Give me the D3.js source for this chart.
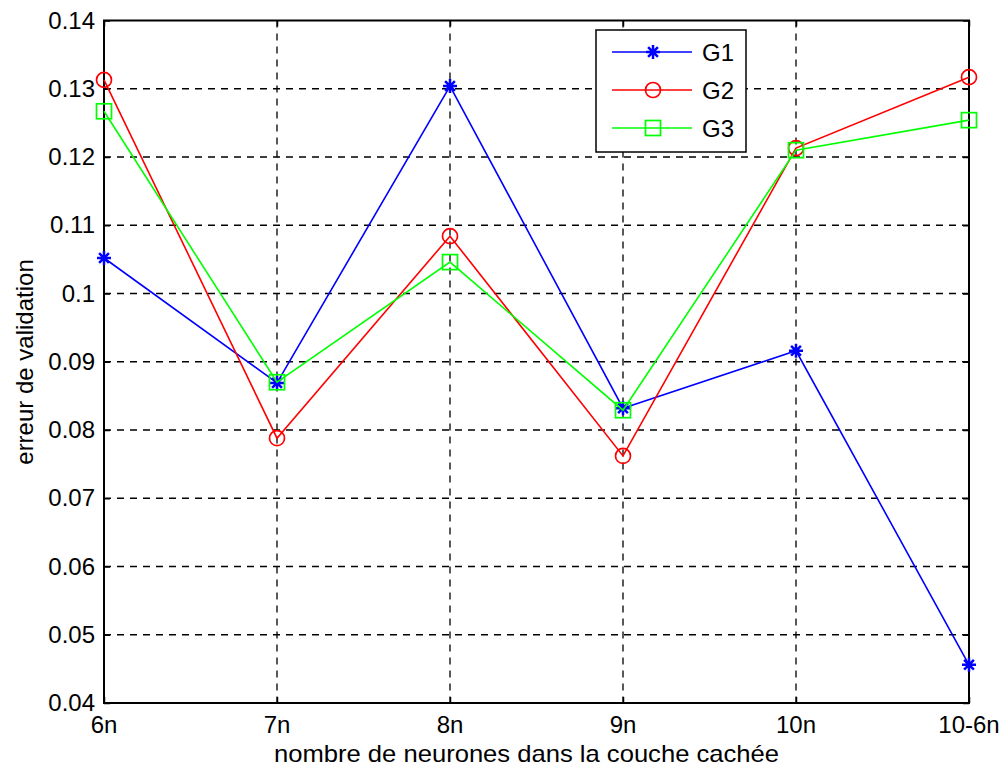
<!DOCTYPE html>
<html>
<head>
<meta charset="utf-8">
<script src="https://cdn.jsdelivr.net/npm/d3@7"></script>
<style>
  body { margin: 0; background: #fff; }
  text { font-family: "Liberation Sans", Arial, sans-serif; }
</style>
</head>
<body>
<div id="chart"></div>
<script>
const categories = ['6n', '7n', '8n', '9n', '10n', '10-6n'];
const g1 = [0.1052, 0.0869, 0.1304, 0.0832, 0.0916, 0.0456];
const g2 = [0.1313, 0.0788, 0.1084, 0.0762, 0.1213, 0.1317];
const g3 = [0.1267, 0.0870, 0.1046, 0.0829, 0.1210, 0.1254];
const yTicks = [0.04, 0.05, 0.06, 0.07, 0.08, 0.09, 0.1, 0.11, 0.12, 0.13, 0.14];
const seriesNames = ['G1', 'G2', 'G3'];
const colors = ['#0000ff', '#ff0000', '#00ff00'];

const width = 1008, height = 773;
const pLeft = 104, pRight = 969, pTop = 20.5, pBottom = 703;
const fs = 24;

const svg = d3.select('#chart').append('svg')
  .attr('width', width)
  .attr('height', height);

const x = d3.scalePoint().domain(categories).range([pLeft, pRight]);
const y = d3.scaleLinear().domain([0.04, 0.14]).range([pBottom, pTop]);

// grid
svg.append('g').selectAll('line')
  .data(categories.slice(1, -1))
  .enter().append('line')
    .attr('x1', d => x(d)).attr('x2', d => x(d))
    .attr('y1', pTop).attr('y2', pBottom)
    .attr('stroke', '#000').attr('stroke-width', 1.3)
    .attr('stroke-dasharray', '7,6');
svg.append('g').selectAll('line')
  .data(yTicks.slice(1, -1))
  .enter().append('line')
    .attr('x1', pLeft).attr('x2', pRight)
    .attr('y1', d => y(d)).attr('y2', d => y(d))
    .attr('stroke', '#000').attr('stroke-width', 1.3)
    .attr('stroke-dasharray', '7,6');

// axes (inward ticks like matlab)
const yAxis = svg.append('g')
  .attr('transform', `translate(${pLeft},0)`)
  .call(d3.axisRight(y).tickValues(yTicks).tickSize(6).tickFormat(''));
const yAxisR = svg.append('g')
  .attr('transform', `translate(${pRight},0)`)
  .call(d3.axisLeft(y).tickValues(yTicks).tickSize(6).tickFormat(''));
const xAxis = svg.append('g')
  .attr('transform', `translate(0,${pBottom})`)
  .call(d3.axisTop(x).tickSize(6).tickFormat(''));
const xAxisT = svg.append('g')
  .attr('transform', `translate(0,${pTop})`)
  .call(d3.axisBottom(x).tickSize(6).tickFormat(''));
[yAxis, yAxisR, xAxis, xAxisT].forEach(a => {
  a.selectAll('path').remove();
  a.selectAll('line').attr('stroke', '#000').attr('stroke-width', 1.5);
});

// tick labels
svg.append('g').selectAll('text')
  .data(yTicks)
  .enter().append('text')
    .attr('x', pLeft - 9)
    .attr('y', d => y(d) + 8)
    .attr('text-anchor', 'end')
    .attr('font-size', fs)
    .text(d => String(+d.toFixed(2)));
svg.append('g').selectAll('text')
  .data(categories)
  .enter().append('text')
    .attr('x', d => x(d))
    .attr('y', pBottom + 30)
    .attr('text-anchor', 'middle')
    .attr('font-size', fs)
    .text(d => d);

// box
svg.append('rect')
  .attr('x', pLeft).attr('y', pTop)
  .attr('width', pRight - pLeft).attr('height', pBottom - pTop)
  .attr('fill', 'none').attr('stroke', '#000').attr('stroke-width', 2);

// axis titles
svg.append('text')
  .attr('x', (pLeft + pRight) / 2 - 10).attr('y', 762)
  .attr('text-anchor', 'middle').attr('font-size', fs)
  .attr('textLength', 505).attr('lengthAdjust', 'spacingAndGlyphs')
  .text('nombre de neurones dans la couche cachée');
svg.append('text')
  .attr('transform', `translate(33,362) rotate(-90)`)
  .attr('text-anchor', 'middle').attr('font-size', fs)
  .text('erreur de validation');

const line = d3.line().x((d, i) => x(categories[i])).y(d => y(d));

function marker(sel, type, color) {
  if (type === 0) {
    const r = 7;
    const p = `M${-r},0L${r},0M0,${-r}L0,${r}M${-r * 0.7},${-r * 0.7}L${r * 0.7},${r * 0.7}M${-r * 0.7},${r * 0.7}L${r * 0.7},${-r * 0.7}`;
    sel.append('path').attr('d', p).attr('stroke', color).attr('stroke-width', 2.5).attr('fill', 'none');
  } else if (type === 1) {
    sel.append('circle').attr('r', 7.5).attr('fill', 'none').attr('stroke', color).attr('stroke-width', 1.7);
  } else {
    sel.append('rect').attr('x', -7.5).attr('y', -7.5).attr('width', 15).attr('height', 15)
      .attr('fill', 'none').attr('stroke', color).attr('stroke-width', 1.7);
  }
}

[g1, g2, g3].forEach((s, k) => {
  svg.append('path')
    .datum(s)
    .attr('d', line)
    .attr('fill', 'none')
    .attr('stroke', colors[k])
    .attr('stroke-width', 1.6);
  s.forEach((v, i) => {
    const m = svg.append('g').attr('transform', `translate(${x(categories[i])},${y(v)})`);
    marker(m, k, colors[k]);
  });
});

// legend
const lg = svg.append('g');
lg.append('rect')
  .attr('x', 596).attr('y', 30).attr('width', 150).attr('height', 122)
  .attr('fill', '#fff').attr('stroke', '#000').attr('stroke-width', 1.5);
seriesNames.forEach((name, k) => {
  const ly = 52 + k * 38;
  lg.append('line')
    .attr('x1', 612).attr('x2', 692).attr('y1', ly).attr('y2', ly)
    .attr('stroke', colors[k]).attr('stroke-width', 1.6);
  marker(lg.append('g').attr('transform', `translate(653,${ly})`), k, colors[k]);
  lg.append('text')
    .attr('x', 702).attr('y', ly + 9)
    .attr('font-size', fs)
    .text(name);
});
</script>
</body>
</html>
